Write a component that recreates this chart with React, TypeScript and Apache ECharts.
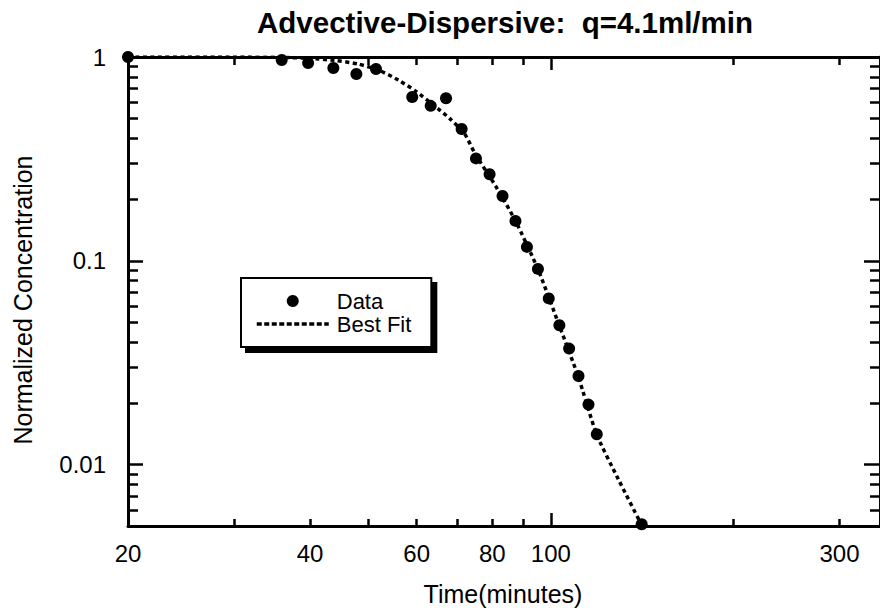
import { useEffect, useRef } from "react";
import * as echarts from "echarts";

// Measured data (time in minutes, normalized concentration)
const dataTime = [20, 35.9, 39.7, 43.7, 47.7, 51.4, 59.0, 63.3, 67.1, 71.2, 75.2, 79.2, 83.2, 87.4, 91.3, 95.2, 99.2, 103.3, 107.2, 111.1, 115.4, 119.1, 141.3];
const dataConc = [1, 0.967, 0.934, 0.883, 0.825, 0.873, 0.636, 0.576, 0.627, 0.443, 0.318, 0.266, 0.208, 0.157, 0.117, 0.0913, 0.0654, 0.0483, 0.0371, 0.0272, 0.0197, 0.0141, 0.0051];

// Best-fit curve
const fitTime = [20, 30, 36, 40, 44, 48, 52, 56, 60, 64, 68, 72, 75, 81.1, 87.4, 95.2, 103.3, 111, 119, 129.3, 141.3];
const fitConc = [1, 1, 0.995, 0.985, 0.962, 0.925, 0.86, 0.77, 0.675, 0.58, 0.5, 0.42, 0.334, 0.232, 0.157, 0.091, 0.048, 0.027, 0.0141, 0.00847, 0.00505];

// Axis ticks and labels
const xMinorTicks = [30, 40, 50, 60, 70, 80, 90, 200, 300];
const xMajorTicks = [100];
const xTickLabels = [20, 40, 60, 80, 100, 300];
const yMinorTicks = [0.006, 0.007, 0.008, 0.009, 0.02, 0.03, 0.04, 0.05, 0.06, 0.07, 0.08, 0.09, 0.2, 0.3, 0.4, 0.5, 0.6, 0.7, 0.8, 0.9];
const yMajorTicks = [0.01, 0.1, 1];
const yTickLabels = [0.01, 0.1, 1];

const FONT = "'Liberation Sans', Arial, Helvetica, sans-serif";
const fmt = (v: number) => String(Number(Number(v).toPrecision(3)));

export default function App() {
  const ref = useRef<HTMLDivElement>(null);
  useEffect(() => {
    const chart = echarts.init(ref.current!, null, { renderer: "svg" });

    const xAxisDef = (position: string, ticks: number[], len: number, showLine: boolean, labels: number[] | null) => ({
      type: "log",
      logBase: 10,
      min: 20,
      max: 350,
      position,
      gridIndex: 0,
      splitLine: { show: false },
      axisLine: { show: showLine, lineStyle: { color: "#000", width: 3 } },
      axisTick: { show: true, inside: true, length: len, customValues: ticks, lineStyle: { color: "#000", width: 2.5 } },
      axisLabel: labels
        ? { show: true, customValues: labels, formatter: fmt, fontSize: 24, color: "#000", fontFamily: FONT, margin: 15 }
        : { show: false },
    });
    const yAxisDef = (position: string, ticks: number[], len: number, showLine: boolean, labels: number[] | null) => ({
      type: "log",
      logBase: 10,
      min: 0.005,
      max: 1,
      position,
      gridIndex: 0,
      splitLine: { show: false },
      axisLine: { show: showLine, lineStyle: { color: "#000", width: 3 } },
      axisTick: { show: true, inside: true, length: len, customValues: ticks, lineStyle: { color: "#000", width: 2.5 } },
      axisLabel: labels
        ? { show: true, customValues: labels, formatter: fmt, fontSize: 24, color: "#000", fontFamily: FONT, margin: 22 }
        : { show: false },
    });

    const option: any = {
      animation: false,
      backgroundColor: "#fff",
      grid: { left: 128, top: 57, width: 755, height: 469, containLabel: false },
      xAxis: [
        xAxisDef("bottom", xMinorTicks, 7, true, xTickLabels),
        xAxisDef("bottom", xMajorTicks, 13, false, null),
        xAxisDef("top", xMinorTicks, 8, true, null),
        xAxisDef("top", xMajorTicks, 13, false, null),
      ],
      yAxis: [
        yAxisDef("left", yMinorTicks, 10, true, yTickLabels),
        yAxisDef("left", yMajorTicks, 15, false, null),
        yAxisDef("right", yMinorTicks, 10, true, null),
        yAxisDef("right", yMajorTicks, 16, false, null),
      ],
      legend: {
        left: 241,
        top: 278,
        orient: "vertical",
        padding: [12, 20, 12, 14],
        itemGap: 1,
        itemWidth: 72,
        itemHeight: 12,
        backgroundColor: "#fff",
        borderColor: "#000",
        borderWidth: 2,
        borderRadius: 0,
        shadowColor: "#000",
        shadowBlur: 0,
        shadowOffsetX: 5,
        shadowOffsetY: 5,
        textStyle: { fontSize: 22, color: "#000", fontFamily: FONT, padding: [0, 0, 0, 3] },
        data: [
          { name: "Data", icon: "circle", itemStyle: { color: "#000", opacity: 1 } },
          {
            name: "Best Fit",
            itemStyle: { color: "rgba(0,0,0,0)", borderWidth: 0, opacity: 0 },
            lineStyle: { color: "#000", width: 3.5, type: [5, 2.5], opacity: 1 },
          },
        ],
      },
      graphic: [
        {
          type: "text",
          x: 505,
          y: 22,
          style: { text: "Advective-Dispersive:  q=4.1ml/min", fontSize: 29.5, fontWeight: "bold", fontFamily: FONT, fill: "#000", textAlign: "center", textVerticalAlign: "middle" },
        },
        {
          type: "text",
          x: 503,
          y: 594,
          style: { text: "Time(minutes)", fontSize: 25, fontFamily: FONT, fill: "#000", textAlign: "center", textVerticalAlign: "middle" },
        },
        {
          type: "text",
          x: 23,
          y: 300,
          rotation: Math.PI / 2,
          style: { text: "Normalized Concentration", fontSize: 25, fontFamily: FONT, fill: "#000", textAlign: "center", textVerticalAlign: "middle" },
        },
      ],
      series: [
        {
          name: "Best Fit",
          type: "line",
          xAxisIndex: 0,
          yAxisIndex: 0,
          data: fitTime.map((t, i) => [t, fitConc[i]]),
          symbol: "none",
          smooth: 0.2,
          lineStyle: { color: "#000", width: 3.5, type: [4, 3.5], cap: "butt" },
          itemStyle: { color: "#000" },
          z: 3,
        },
        {
          name: "Data",
          type: "scatter",
          xAxisIndex: 0,
          yAxisIndex: 0,
          data: dataTime.map((t, i) => [t, dataConc[i]]),
          symbol: "circle",
          symbolSize: 12,
          itemStyle: { color: "#000", opacity: 1 },
          z: 4,
        },
      ],
    };
    chart.setOption(option);
    return () => chart.dispose();
  }, []);
  return <div ref={ref} style={{ position: "absolute", left: 0, top: 0, width: 880, height: 608, background: "#fff" }} />;
}
